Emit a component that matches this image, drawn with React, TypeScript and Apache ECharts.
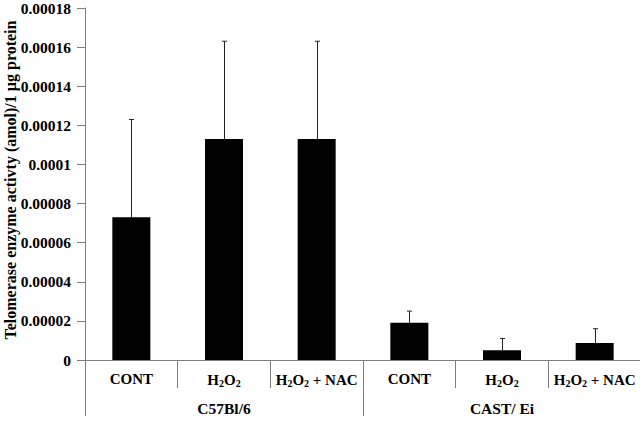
import React, { useEffect, useRef } from "react";
import * as echarts from "echarts";

const categories = ["CONT", "H2O2", "H2O2 + NAC", "CONT", "H2O2", "H2O2 + NAC"];
const groups = ["C57Bl/6", "CAST/ Ei"];
const means = [0.000073, 0.000113, 0.000113, 0.000019, 0.000005, 0.0000087];
const errorTops = [0.000123, 0.000163, 0.000163, 0.000025, 0.000011, 0.000016];
const yTicks = { min: 0, max: 0.00018, interval: 0.00002 };
const yTitle = "Telomerase enzyme activty (amol)/1 µg protein";

const FONT = "'Liberation Serif', 'Times New Roman', serif";

function fmtCat(c: string) {
  return c.replace(/H2O2/g, "H{sub|2}O{sub|2}");
}

export default function App() {
  const ref = useRef<HTMLDivElement>(null);
  useEffect(() => {
    if (!ref.current) return;
    const chart = echarts.init(ref.current, undefined, { renderer: "svg" });
    const axisGray = "#7f7f7f";
    const labelRich = {
      sub: { fontSize: 10, fontWeight: "bold", fontFamily: FONT, color: "#000", padding: [7, 0, 0, 0] },
    };
    chart.setOption({
      animation: false,
      grid: { left: 85, top: 8, bottom: 63, right: -1, containLabel: false, outerBoundsMode: "none" },
      xAxis: [
        {
          type: "category",
          data: categories,
          position: "bottom",
          axisLine: { show: true, lineStyle: { color: axisGray, width: 1 } },
          axisTick: { show: true, interval: 0, length: 28, lineStyle: { color: axisGray } },
          axisLabel: {
            interval: 0,
            margin: 11,
            formatter: (v: string) => fmtCat(v),
            fontFamily: FONT,
            fontWeight: "bold",
            fontSize: 15,
            color: "#000",
            rich: labelRich,
          },
        },
        {
          type: "category",
          data: groups,
          position: "bottom",
          axisLine: { show: false },
          axisTick: { show: true, interval: 0, length: 56, lineStyle: { color: axisGray } },
          axisLabel: {
            interval: 0,
            margin: 40,
            fontFamily: FONT,
            fontWeight: "bold",
            fontSize: 15.5,
            color: "#000",
          },
        },
      ],
      yAxis: {
        type: "value",
        min: yTicks.min,
        max: yTicks.max,
        interval: yTicks.interval,
        axisLine: { show: true, lineStyle: { color: axisGray } },
        axisTick: { show: true, length: 8, lineStyle: { color: axisGray } },
        splitLine: { show: false },
        axisLabel: {
          margin: 14,
          fontFamily: FONT,
          fontWeight: "bold",
          fontSize: 15.5,
          color: "#000",
          formatter: (v: number) => (v === 0 ? "0" : String(parseFloat(v.toFixed(6)))),
        },
      },
      graphic: [
        {
          type: "text",
          x: 10,
          y: 180,
          rotation: Math.PI / 2,
          style: {
            text: yTitle,
            fontFamily: FONT,
            fontWeight: "bold",
            fontSize: 16,
            fill: "#000",
            align: "center",
            verticalAlign: "middle",
          },
        },
      ],
      series: [
        {
          type: "bar",
          data: means,
          barWidth: "41%",
          itemStyle: { color: "#000" },
          xAxisIndex: 0,
        },
        {
          type: "custom",
          xAxisIndex: 0,
          data: means.map((m, i) => [i, m, errorTops[i]]),
          renderItem: (params: any, api: any) => {
            const i = api.value(0);
            const top = api.coord([i, api.value(1)]);
            const hi = api.coord([i, api.value(2)]);
            const x = Math.round(top[0]) + 0.5;
            const style = { stroke: "#222", lineWidth: 1 };
            return {
              type: "group",
              children: [
                { type: "line", shape: { x1: x, y1: top[1], x2: x, y2: hi[1] }, style },
                { type: "line", shape: { x1: x - 2.5, y1: hi[1], x2: x + 2.5, y2: hi[1] }, style },
              ],
            };
          },
          z: 5,
        },
      ],
    });
    return () => chart.dispose();
  }, []);
  return (
    <div
      ref={ref}
      style={{ position: "fixed", left: 0, top: 0, width: 640, height: 423, background: "#fff" }}
    />
  );
}
